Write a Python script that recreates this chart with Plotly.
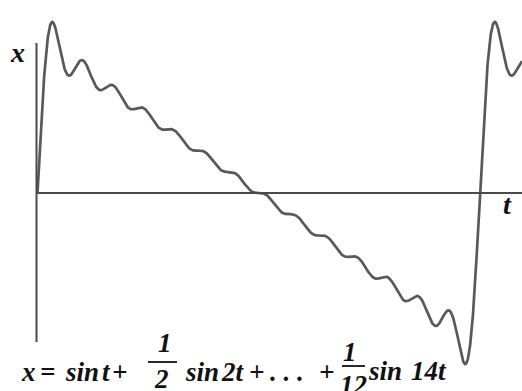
import numpy as np
import plotly.graph_objects as go

# Partial Fourier sum: harmonic numbers and their amplitudes
harmonics = [1, 2, 3, 4, 5, 6, 7, 8, 9, 10, 11, 12, 13, 14]
amplitudes = [1 / n for n in harmonics]

# Canvas and mapping from pixel layout to data units
W, H = 522, 391
t_px0, t_px2pi = 37.5, 480.0          # pixel columns of t = 0 and t = 2*pi
y_px0, y_scale = 193.0, 98.0          # pixel row of x = 0, pixels per unit
rad_px = (t_px2pi - t_px0) / (2 * np.pi)
x_range = [-t_px0 / rad_px, (W - t_px0) / rad_px]
y_range = [-(H - y_px0) / y_scale, y_px0 / y_scale]

t = np.linspace(0.0, x_range[1], 3000)
x = sum(a * np.sin(n * t) for n, a in zip(harmonics, amplitudes))

curve_color = "#595959"
axis_color = "#4a4a4a"
text_color = "#111111"
serif = "Liberation Serif"

fig = go.Figure()
fig.add_trace(go.Scatter(x=t, y=x, mode="lines",
                         line=dict(color=curve_color, width=2.7),
                         hoverinfo="skip", showlegend=False))


def px(xp):
    return xp / W


def py(yp):
    return 1 - yp / H


shapes = [
    # vertical x-axis
    dict(type="line", xref="paper", yref="paper",
         x0=px(36.5), x1=px(36.5), y0=py(43), y1=py(342),
         line=dict(color=axis_color, width=2)),
    # horizontal t-axis
    dict(type="line", xref="paper", yref="paper",
         x0=px(36.5), x1=px(W), y0=py(y_px0), y1=py(y_px0),
         line=dict(color=axis_color, width=2)),
    # fraction bars in the formula
    dict(type="line", xref="paper", yref="paper",
         x0=px(148), x1=px(177), y0=py(362), y1=py(362),
         line=dict(color=text_color, width=1.8)),
    dict(type="line", xref="paper", yref="paper",
         x0=px(342), x1=px(365), y0=py(366), y1=py(366),
         line=dict(color=text_color, width=1.8)),
]


def label(text, xp, yp, size=27, anchor="center"):
    return dict(text=text, xref="paper", yref="paper",
                x=px(xp), y=py(yp), xanchor=anchor, yanchor="middle",
                showarrow=False,
                font=dict(family=serif, size=size, color=text_color,
                          weight="bold", style="italic"))


annotations = [
    label("x", 17, 52, size=28),
    label("t", 507, 204, size=28),
    # formula, placed piece by piece
    label("x", 28, 372),
    label("=", 47, 372),
    label("sin", 82, 372),
    label("t", 106, 372),
    label("+", 119, 372),
    label("1", 165, 343, size=27),
    label("2", 161, 379, size=27),
    label("sin", 202, 372),
    label("2t", 233, 372),
    label("+", 256, 372),
    label(". . .", 287, 372),
    label("+", 326, 372),
    label("1", 350, 352, size=27),
    label("12", 353, 385, size=27),
    label("sin", 385, 371),
    label("14t", 429, 371),
]

fig.update_layout(
    width=W, height=H,
    margin=dict(l=0, r=0, t=0, b=0),
    paper_bgcolor="white", plot_bgcolor="white",
    xaxis=dict(range=x_range, visible=False, fixedrange=True),
    yaxis=dict(range=y_range, visible=False, fixedrange=True),
    shapes=shapes, annotations=annotations,
    showlegend=False,
)

fig.write_html("out.html")
